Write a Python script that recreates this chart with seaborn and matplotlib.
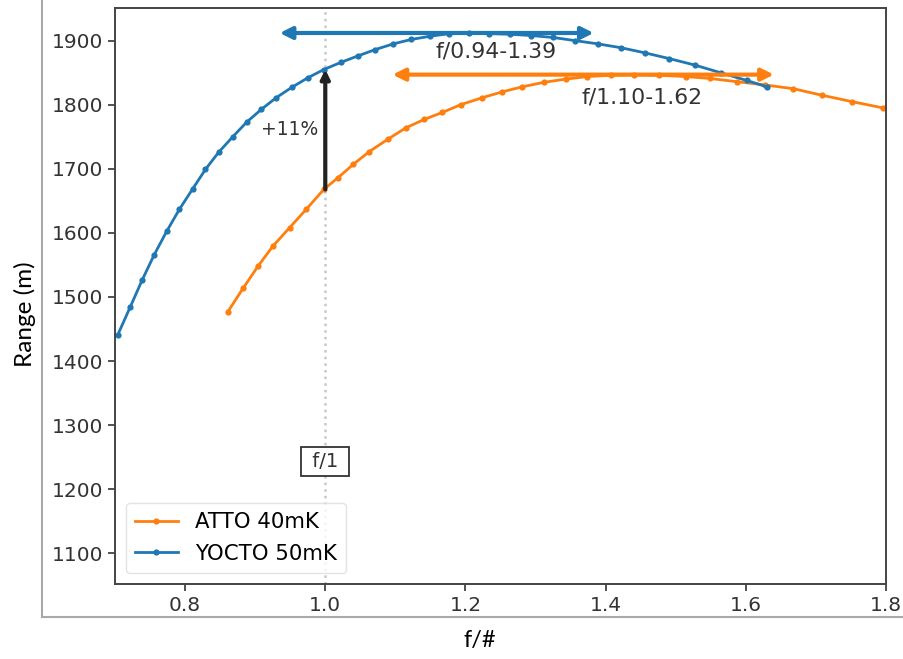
import matplotlib
matplotlib.use("Agg")
import matplotlib.pyplot as plt
from matplotlib.lines import Line2D
import seaborn as sns
import pandas as pd

# ---- data ----
yocto_f = [0.704, 0.722, 0.739, 0.756, 0.774, 0.792, 0.811, 0.829, 0.848, 0.868,
           0.888, 0.909, 0.930, 0.952, 0.975, 0.998, 1.022, 1.046, 1.071, 1.097,
           1.123, 1.150, 1.177, 1.205, 1.234, 1.264, 1.294, 1.325, 1.357, 1.389,
           1.422, 1.456, 1.491, 1.527, 1.564, 1.601, 1.630]
yocto_r = [1441, 1485, 1527, 1566, 1603, 1637, 1669, 1699, 1726, 1750,
           1773, 1793, 1811, 1827, 1842, 1855, 1866, 1876, 1886, 1895,
           1902, 1907, 1911, 1912, 1911, 1910, 1908, 1905, 1900, 1895,
           1889, 1881, 1872, 1862, 1850, 1838, 1828]

atto_f = [0.861, 0.883, 0.904, 0.925, 0.949, 0.973, 0.998, 1.018, 1.040, 1.063,
          1.089, 1.115, 1.141, 1.167, 1.193, 1.224, 1.252, 1.281, 1.312, 1.343,
          1.374, 1.407, 1.440, 1.476, 1.514, 1.549, 1.587, 1.627, 1.668, 1.708,
          1.751, 1.796, 1.840]
atto_r = [1477, 1514, 1548, 1579, 1608, 1637, 1668, 1686, 1707, 1727,
          1746, 1764, 1777, 1788, 1800, 1811, 1820, 1828, 1835, 1840,
          1844, 1846, 1847, 1846, 1844, 1841, 1836, 1831, 1825, 1815,
          1805, 1795, 1784]

series_labels = ["ATTO 40mK", "YOCTO 50mK"]
series_colors = ["#ff7f0e", "#1f77b4"]

yocto_range = (0.94, 1.39)
atto_range = (1.10, 1.62)
yocto_peak = 1912
atto_peak = 1847
gain_from, gain_to = 1668, 1855
x_ticks = [0.8, 1.0, 1.2, 1.4, 1.6, 1.8]
y_ticks = [1100, 1200, 1300, 1400, 1500, 1600, 1700, 1800, 1900]

atto_df = pd.DataFrame({"f": atto_f, "r": atto_r})
yocto_df = pd.DataFrame({"f": yocto_f, "r": yocto_r})

# ---- figure ----
fig = plt.figure(figsize=(9.04, 6.59), dpi=100)
ax = fig.add_axes([115 / 904, 1 - 584 / 659, (886 - 115) / 904, (584 - 8) / 659])

ax.axvline(1.0, color="#c8c8c8", ls=":", lw=1.8, zorder=0)

sns.lineplot(data=atto_df, x="f", y="r", ax=ax, color=series_colors[0],
             marker="o", markersize=4.5, markeredgewidth=0, lw=2.0,
             label=series_labels[0], sort=False)
sns.lineplot(data=yocto_df, x="f", y="r", ax=ax, color=series_colors[1],
             marker="o", markersize=4.5, markeredgewidth=0, lw=2.0,
             label=series_labels[1], sort=False)

ax.set_xlim(0.70, 1.80)
ax.set_ylim(1052, 1951)
ax.set_xticks(x_ticks)
ax.set_xticklabels([f"{t:.1f}" for t in x_ticks])
ax.set_yticks(y_ticks)
ax.set_xlabel("")
ax.set_ylabel("")
ax.tick_params(labelsize=14.5, colors="#333333", length=5, width=1.2)
for s in ax.spines.values():
    s.set_color("#444444")
    s.set_linewidth(1.4)

# range arrows
ax.annotate("", xy=(yocto_range[0] - 0.005, yocto_peak),
            xytext=(yocto_range[1] - 0.007, yocto_peak),
            arrowprops=dict(arrowstyle="<|-|>", color=series_colors[1], lw=3.0,
                            mutation_scale=18, shrinkA=0, shrinkB=0))
ax.annotate("", xy=(atto_range[0] - 0.004, atto_peak),
            xytext=(atto_range[1] + 0.02, atto_peak),
            arrowprops=dict(arrowstyle="<|-|>", color=series_colors[0], lw=3.0,
                            mutation_scale=18, shrinkA=0, shrinkB=0))
ax.text(1.244, 1883, f"f/{yocto_range[0]:.2f}-{yocto_range[1]:.2f}",
        ha="center", va="center", fontsize=15.8, color="#333333")
ax.text(1.452, 1812, f"f/{atto_range[0]:.2f}-{atto_range[1]:.2f}",
        ha="center", va="center", fontsize=15.8, color="#333333")

# gain arrow
ax.annotate("", xy=(1.0, gain_to), xytext=(1.0, gain_from),
            arrowprops=dict(arrowstyle="-|>", color="#222222", lw=3.0,
                            mutation_scale=13, shrinkA=0, shrinkB=0))
ax.text(0.949, 1762, "+11%", ha="center", va="center", fontsize=13.5, color="#333333")

ax.text(1.0, 1243, " f/1 ", ha="center", va="center", fontsize=14, color="#333333",
        bbox=dict(boxstyle="square,pad=0.25", fc="white", ec="#333333", lw=1.3))

ax.legend(loc="lower left", fontsize=15.3, handlelength=2.0, borderpad=0.45,
          labelspacing=0.55, framealpha=0.8, edgecolor="#dddddd")

# outer frame lines of the embedded picture and outer labels
fig.add_artist(Line2D([42 / 904, 42 / 904], [1 - 617 / 659, 1.0],
                      transform=fig.transFigure, color="#a8a8a8", lw=1.5))
fig.add_artist(Line2D([42 / 904, 1.0], [1 - 617 / 659, 1 - 617 / 659],
                      transform=fig.transFigure, color="#a8a8a8", lw=1.5))
fig.text(25 / 904, 1 - 314 / 659, "Range (m)", rotation=90, ha="center", va="center",
         fontsize=17.5, family=["Lato", "DejaVu Sans"], color="black")
fig.text(480 / 904, 1 - 640 / 659, "f/#", ha="center", va="center",
         fontsize=17, family=["Lato", "DejaVu Sans"], color="black")

fig.savefig("out.png", dpi=100)
